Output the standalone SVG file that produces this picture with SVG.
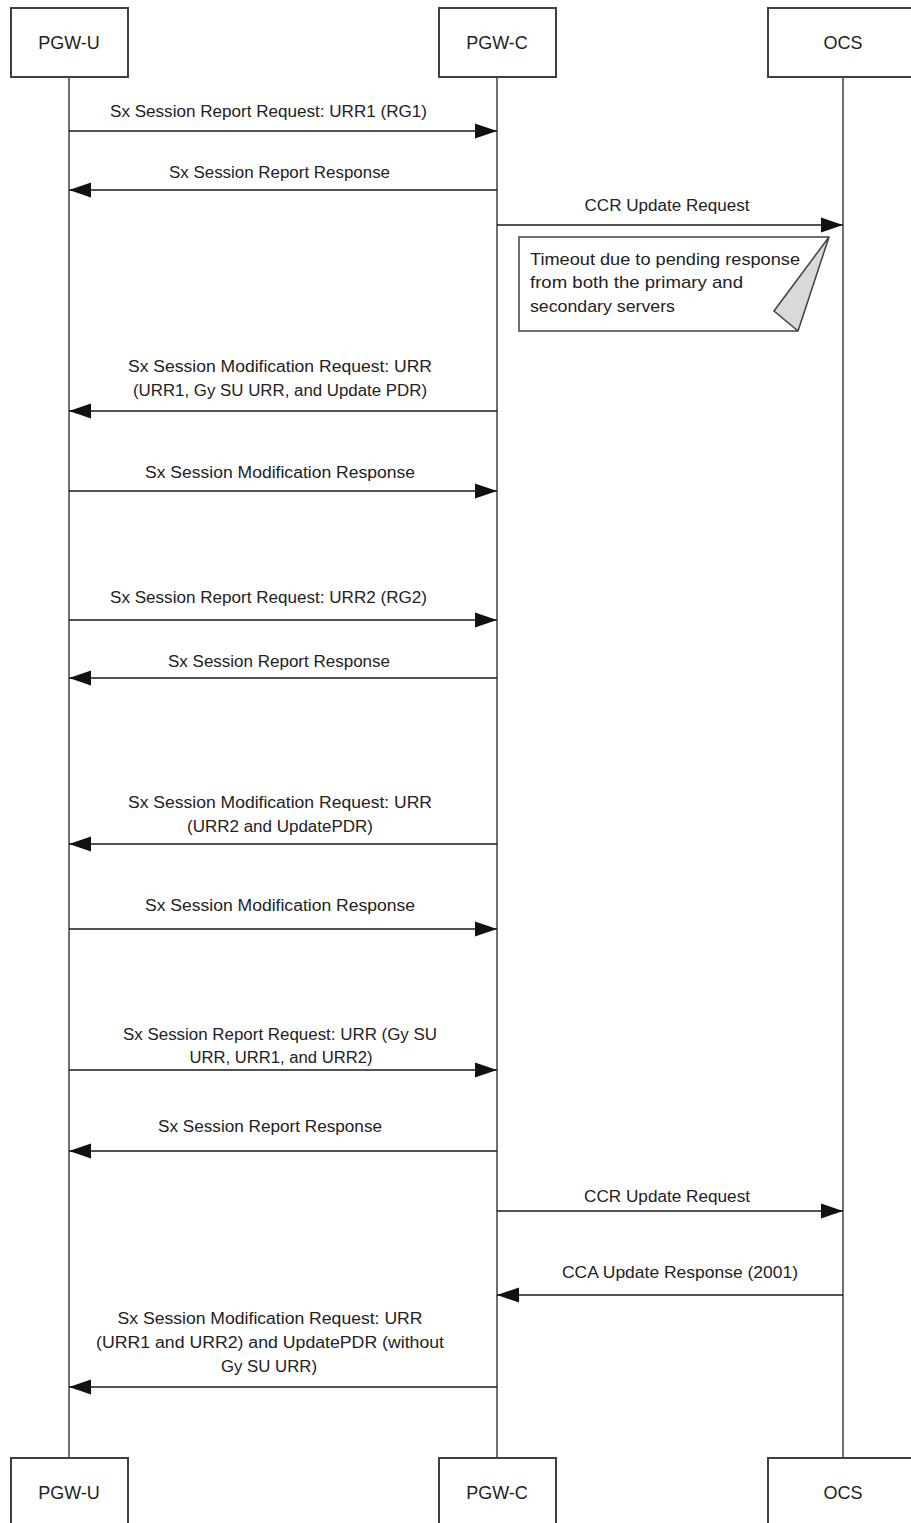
<svg xmlns="http://www.w3.org/2000/svg" width="911" height="1523" viewBox="0 0 911 1523">
<defs>
<style>
.box{fill:#fff;stroke:#404040;stroke-width:2}
.life{stroke:#404040;stroke-width:1.5;fill:none}
.msg{stroke:#1a1a1a;stroke-width:1.5;fill:none;marker-end:url(#ah)}
.nt{font-family:"Liberation Sans",Arial,sans-serif;font-size:18px;fill:#222;text-anchor:middle}
.lb{font-family:"Liberation Sans",Arial,sans-serif;font-size:16px;fill:#222;text-anchor:middle}
.note{fill:#fff;stroke:#404040;stroke-width:1.5}
.fold{fill:#d9d9d9;stroke:#404040;stroke-width:1.5;stroke-linejoin:round}
.ntx{font-family:"Liberation Sans",Arial,sans-serif;font-size:17px;fill:#222}
</style>
<marker id="ah" markerUnits="userSpaceOnUse" markerWidth="22" markerHeight="16" refX="22" refY="8" orient="auto">
<path d="M0,0.5 L22,8 L0,15.5 z" fill="#111"/>
</marker>
</defs>
<rect width="911" height="1523" fill="#fff"/>

<g id="lifelines">
<line class="life" x1="69" y1="77" x2="69" y2="1458"/>
<line class="life" x1="497" y1="77" x2="497" y2="1458"/>
<line class="life" x1="843" y1="77" x2="843" y2="1458"/>
</g>

<g id="node-pgwu-top"><rect class="box" x="11" y="8" width="117" height="69"/><text class="nt" x="69" y="49">PGW-U</text></g>
<g id="node-pgwc-top"><rect class="box" x="439" y="8" width="117" height="69"/><text class="nt" x="497" y="49">PGW-C</text></g>
<g id="node-ocs-top"><rect class="box" x="768" y="8" width="152" height="69"/><text class="nt" x="843" y="49">OCS</text></g>

<g id="node-pgwu-bottom"><rect class="box" x="11" y="1458" width="117" height="80"/><text class="nt" x="69" y="1499">PGW-U</text></g>
<g id="node-pgwc-bottom"><rect class="box" x="439" y="1458" width="117" height="80"/><text class="nt" x="497" y="1499">PGW-C</text></g>
<g id="node-ocs-bottom"><rect class="box" x="768" y="1458" width="152" height="80"/><text class="nt" x="843" y="1499">OCS</text></g>

<g id="note-timeout">
<path class="note" d="M829,237 L519,237 L519,331 L798,331"/>
<path class="fold" d="M829,237 L774,311 L798,331 Z"/>
<text class="ntx" x="530" y="265" textLength="270" lengthAdjust="spacingAndGlyphs">Timeout due to pending response</text>
<text class="ntx" x="530" y="288" textLength="213" lengthAdjust="spacingAndGlyphs">from both the primary and</text>
<text class="ntx" x="530" y="312" textLength="145" lengthAdjust="spacingAndGlyphs">secondary servers</text>
</g>

<g id="connectors">
<line class="msg" x1="69" y1="131" x2="497" y2="131"/>
<line class="msg" x1="497" y1="190" x2="69" y2="190"/>
<line class="msg" x1="497" y1="225" x2="843" y2="225"/>
<line class="msg" x1="497" y1="411" x2="69" y2="411"/>
<line class="msg" x1="69" y1="491" x2="497" y2="491"/>
<line class="msg" x1="69" y1="620" x2="497" y2="620"/>
<line class="msg" x1="497" y1="678" x2="69" y2="678"/>
<line class="msg" x1="497" y1="844" x2="69" y2="844"/>
<line class="msg" x1="69" y1="929" x2="497" y2="929"/>
<line class="msg" x1="69" y1="1070" x2="497" y2="1070"/>
<line class="msg" x1="497" y1="1151" x2="69" y2="1151"/>
<line class="msg" x1="497" y1="1211" x2="843" y2="1211"/>
<line class="msg" x1="843" y1="1295" x2="497" y2="1295"/>
<line class="msg" x1="497" y1="1387" x2="69" y2="1387"/>
</g>

<g id="labels">
<text class="lb" x="268.5" y="117" textLength="317" lengthAdjust="spacingAndGlyphs">Sx Session Report Request: URR1 (RG1)</text>
<text class="lb" x="279.5" y="178" textLength="221" lengthAdjust="spacingAndGlyphs">Sx Session Report Response</text>
<text class="lb" x="667" y="211" textLength="165" lengthAdjust="spacingAndGlyphs">CCR Update Request</text>
<text class="lb" x="280" y="372" textLength="304" lengthAdjust="spacingAndGlyphs">Sx Session Modification Request: URR</text>
<text class="lb" x="280" y="396" textLength="294" lengthAdjust="spacingAndGlyphs">(URR1, Gy SU URR, and Update PDR)</text>
<text class="lb" x="280" y="478" textLength="270" lengthAdjust="spacingAndGlyphs">Sx Session Modification Response</text>
<text class="lb" x="268.5" y="603" textLength="317" lengthAdjust="spacingAndGlyphs">Sx Session Report Request: URR2 (RG2)</text>
<text class="lb" x="279" y="667" textLength="222" lengthAdjust="spacingAndGlyphs">Sx Session Report Response</text>
<text class="lb" x="280" y="808" textLength="304" lengthAdjust="spacingAndGlyphs">Sx Session Modification Request: URR</text>
<text class="lb" x="280" y="832" textLength="186" lengthAdjust="spacingAndGlyphs">(URR2 and UpdatePDR)</text>
<text class="lb" x="280" y="911" textLength="270" lengthAdjust="spacingAndGlyphs">Sx Session Modification Response</text>
<text class="lb" x="280" y="1040" textLength="314" lengthAdjust="spacingAndGlyphs">Sx Session Report Request: URR (Gy SU</text>
<text class="lb" x="281" y="1063" textLength="183" lengthAdjust="spacingAndGlyphs">URR, URR1, and URR2)</text>
<text class="lb" x="270" y="1132" textLength="224" lengthAdjust="spacingAndGlyphs">Sx Session Report Response</text>
<text class="lb" x="667" y="1202" textLength="166" lengthAdjust="spacingAndGlyphs">CCR Update Request</text>
<text class="lb" x="680" y="1278" textLength="236" lengthAdjust="spacingAndGlyphs">CCA Update Response (2001)</text>
<text class="lb" x="270" y="1324" textLength="305" lengthAdjust="spacingAndGlyphs">Sx Session Modification Request: URR</text>
<text class="lb" x="270" y="1348" textLength="348" lengthAdjust="spacingAndGlyphs">(URR1 and URR2) and UpdatePDR (without</text>
<text class="lb" x="269" y="1372" textLength="96" lengthAdjust="spacingAndGlyphs">Gy SU URR)</text>
</g>
</svg>
